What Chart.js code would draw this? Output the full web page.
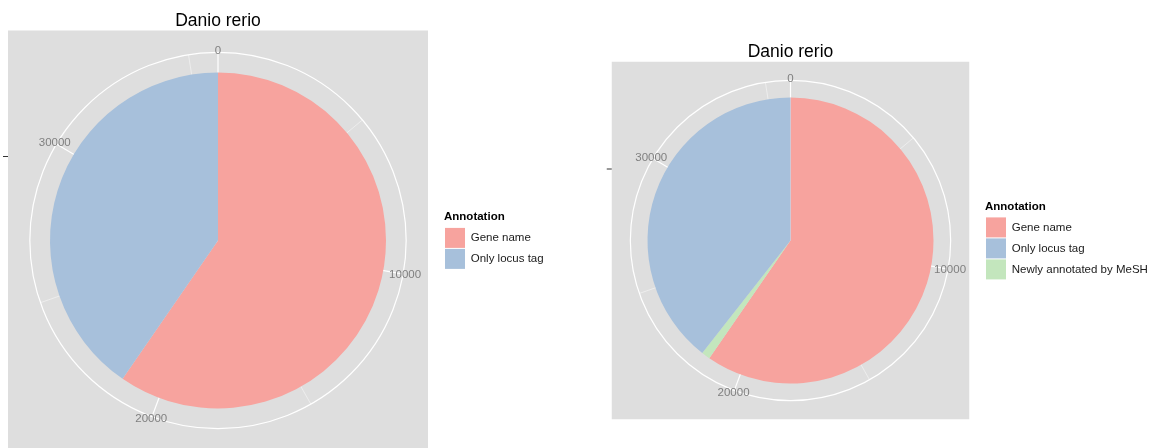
<!DOCTYPE html>
<html lang="en">
<head>
<meta charset="UTF-8">
<title>Danio rerio</title>
<script src="https://cdn.jsdelivr.net/npm/chart.js"></script>
<style>
    body {
        margin: 0;
        background: #ffffff;
        width: 1161px;
        height: 448px;
        overflow: hidden;
        position: relative;
    }
    .box { position: absolute; top: 0; }
    #left { left: -8px; width: 600px; height: 449px; }
    #right { left: 596px; width: 565px; height: 448px; }
</style>
</head>
<body>
<div class="box" id="left"><canvas id="pieBefore"></canvas></div>
<div class="box" id="right"><canvas id="pieAfter"></canvas></div>

<script>
    // slices listed clockwise from 12 o'clock
    const labelsBefore = ['Gene name', 'Only locus tag'];
    const countsBefore = [21400, 14500];

    const labelsAfter = ['Gene name', 'Newly annotated by MeSH', 'Only locus tag'];
    const countsAfter = [21400, 350, 14150];

    const legendOrder = ['Gene name', 'Only locus tag', 'Newly annotated by MeSH'];
    const majorTicks = [0, 10000, 20000, 30000];
    const minorTicks = [5000, 15000, 25000, 35000];

    const colors = {
        'Gene name': '#f7a39e',
        'Only locus tag': '#a7c0db',
        'Newly annotated by MeSH': '#c3e6bd'
    };

    Chart.defaults.font.family = "'Liberation Sans', Arial, sans-serif";

    // ggplot-like polar background: grey panel, white ring, theta grid + labels
    const polarFrame = {
        id: 'polarFrame',
        afterLayout(chart) {
            // legend keeps a narrow slot in the layout, but text may run past it
            chart.legend.width += 200;
            chart.legend.right += 200;
        },
        beforeDraw(chart) {
            const arc = chart.getDatasetMeta(0).data[0];
            if (!arc) return;
            const cx = arc.x, cy = arc.y, r = arc.outerRadius;
            const total = chart.data.datasets[0].data.reduce((a, b) => a + b, 0);
            const half = r * 1.25;
            const ring = r * 1.12;
            const ang = v => v / total * Math.PI * 2 - Math.PI / 2;
            const ctx = chart.ctx;

            ctx.save();
            ctx.fillStyle = '#dedede';
            ctx.fillRect(cx - half, cy - half, half * 2, half * 2);

            ctx.strokeStyle = 'rgba(255,255,255,0.75)';
            ctx.lineWidth = 0.6;
            minorTicks.filter(v => v < total).forEach(v => {
                ctx.beginPath();
                ctx.moveTo(cx, cy);
                ctx.lineTo(cx + ring * Math.cos(ang(v)), cy + ring * Math.sin(ang(v)));
                ctx.stroke();
            });

            ctx.strokeStyle = '#ffffff';
            ctx.lineWidth = 1.2;
            majorTicks.forEach(v => {
                ctx.beginPath();
                ctx.moveTo(cx, cy);
                ctx.lineTo(cx + ring * Math.cos(ang(v)), cy + ring * Math.sin(ang(v)));
                ctx.stroke();
            });
            ctx.beginPath();
            ctx.arc(cx, cy, ring, 0, Math.PI * 2);
            ctx.stroke();

            ctx.fillStyle = '#7f7f7f';
            ctx.font = "11.5px 'Liberation Sans', Arial, sans-serif";
            ctx.textAlign = 'center';
            ctx.textBaseline = 'middle';
            majorTicks.forEach(v => {
                ctx.fillText(String(v), cx + (ring + 2) * Math.cos(ang(v)), cy + (ring + 2) * Math.sin(ang(v)));
            });

            // lone tick of the radial axis
            ctx.strokeStyle = '#333333';
            ctx.lineWidth = 1;
            ctx.beginPath();
            ctx.moveTo(cx - half - 5, cy - r / 2);
            ctx.lineTo(cx - half, cy - r / 2);
            ctx.stroke();
            ctx.restore();
        }
    };

    function makePie(id, labels, counts, radius, titlePad, layoutPad) {
        return new Chart(document.getElementById(id), {
            type: 'pie',
            data: {
                labels: labels,
                datasets: [{
                    data: counts,
                    backgroundColor: labels.map(l => colors[l]),
                    borderWidth: 0,
                    radius: radius
                }]
            },
            options: {
                responsive: true,
                maintainAspectRatio: false,
                animation: false,
                layout: { padding: layoutPad },
                plugins: {
                    title: {
                        display: true,
                        text: 'Danio rerio',
                        fullSize: false,
                        color: '#000000',
                        font: { size: 17.5, weight: 'normal' },
                        padding: titlePad
                    },
                    legend: {
                        position: 'right',
                        fullSize: false,
                        maxWidth: 60,
                        title: {
                            display: true,
                            text: 'Annotation',
                            position: 'start',
                            color: '#000000',
                            font: { size: 11.5, weight: 'bold' },
                            padding: { top: 0, bottom: 2 }
                        },
                        labels: {
                            boxWidth: 20,
                            boxHeight: 20,
                            padding: 1,
                            color: '#1a1a1a',
                            font: { size: 11.5 },
                            sort: (a, b) => legendOrder.indexOf(a.text) - legendOrder.indexOf(b.text)
                        }
                    },
                    tooltip: { enabled: false }
                }
            },
            plugins: [polarFrame]
        });
    }

    makePie('pieBefore', labelsBefore, countsBefore, 168,
        { top: 10.5, bottom: 0.5 }, { left: 0, right: 88, top: 0, bottom: 0 });
    makePie('pieAfter', labelsAfter, countsAfter, 143,
        { top: 42, bottom: 0 }, { left: 0, right: 116, top: 0, bottom: 30 });
</script>
</body>
</html>
